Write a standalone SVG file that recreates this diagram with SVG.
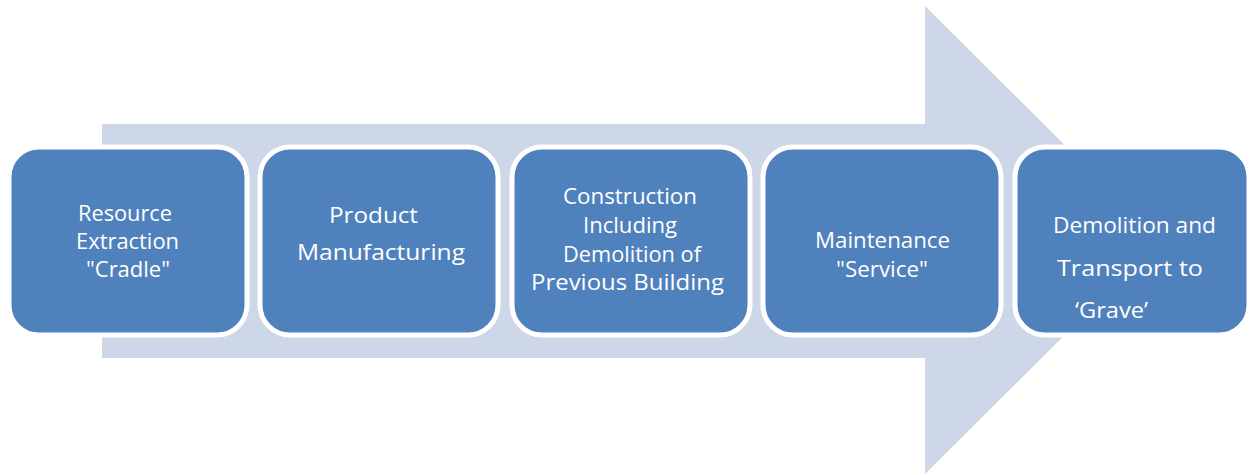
<svg xmlns="http://www.w3.org/2000/svg" width="1252" height="475" viewBox="0 0 1252 475">
  <style>
    .step { fill: #4F81BD; stroke: #FFFFFF; stroke-width: 5; }
    .label { fill: #FFFFFF; font-family: "Open Sans", "Liberation Sans", sans-serif; font-size: 22px; text-anchor: start; }
  </style>
  <rect width="1252" height="475" fill="#FFFFFF"/>

  <!-- background process arrow -->
  <g id="connectors">
    <polygon points="102,124 925,124 925,6 1160,240 925,474 925,358 102,358" fill="#CED7E7"/>
  </g>

  <g id="step1">
    <rect class="step" x="9" y="147" width="238" height="188" rx="30"/>
    <text class="label" x="78" y="221" textLength="94" lengthAdjust="spacingAndGlyphs">Resource</text>
    <text class="label" x="76" y="249" textLength="103" lengthAdjust="spacingAndGlyphs">Extraction</text>
    <text class="label" x="86" y="277" textLength="84" lengthAdjust="spacingAndGlyphs">"Cradle"</text>
  </g>

  <g id="step2">
    <rect class="step" x="260" y="147" width="238" height="188" rx="30"/>
    <text class="label" x="329" y="223" textLength="89" lengthAdjust="spacingAndGlyphs">Product</text>
    <text class="label" x="297" y="260" textLength="168" lengthAdjust="spacingAndGlyphs">Manufacturing</text>
  </g>

  <g id="step3">
    <rect class="step" x="512" y="147" width="238" height="188" rx="30"/>
    <text class="label" x="563" y="204" textLength="134" lengthAdjust="spacingAndGlyphs">Construction</text>
    <text class="label" x="583" y="233" textLength="94" lengthAdjust="spacingAndGlyphs">Including</text>
    <text class="label" x="563" y="262" textLength="138" lengthAdjust="spacingAndGlyphs">Demolition of</text>
    <text class="label" x="531" y="290" textLength="193" lengthAdjust="spacingAndGlyphs">Previous Building</text>
  </g>

  <g id="step4">
    <rect class="step" x="763" y="147" width="238" height="188" rx="30"/>
    <text class="label" x="815" y="248" textLength="135" lengthAdjust="spacingAndGlyphs">Maintenance</text>
    <text class="label" x="836" y="277" textLength="92" lengthAdjust="spacingAndGlyphs">"Service"</text>
  </g>

  <g id="step5">
    <rect class="step" x="1015" y="147" width="234" height="188" rx="30"/>
    <text class="label" x="1053" y="233" textLength="163" lengthAdjust="spacingAndGlyphs">Demolition and</text>
    <text class="label" x="1057" y="276" textLength="146" lengthAdjust="spacingAndGlyphs">Transport to</text>
    <text class="label" x="1075" y="318" textLength="73" lengthAdjust="spacingAndGlyphs">‘Grave’</text>
  </g>
</svg>
